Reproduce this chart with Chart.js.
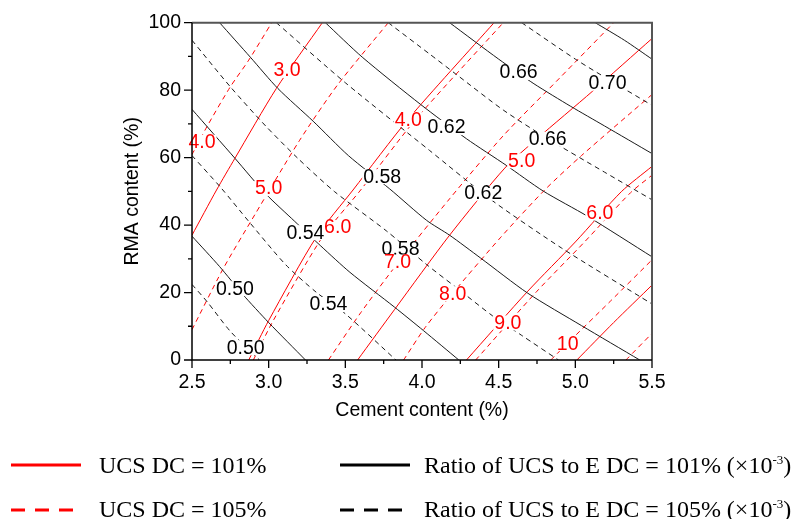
<!DOCTYPE html>
<html><head><meta charset="utf-8">
<script src="https://cdn.jsdelivr.net/npm/chart.js@4/dist/chart.umd.min.js"></script>
<style>
html,body{margin:0;padding:0;background:#fff;}
#wrap{position:relative;width:795px;height:519px;overflow:hidden;background:#fff;}
canvas{position:absolute;left:0;top:0;}
svg{position:absolute;left:0;top:0;}
.lg{position:absolute;font-family:"Liberation Serif","Times New Roman",serif;font-size:24px;color:#000;white-space:nowrap;line-height:24px;}
.lg sup{font-size:13px;vertical-align:9px;line-height:0;}
</style></head><body>
<div id="wrap">
<canvas id="c" width="795" height="519"></canvas>
<svg width="795" height="519">
 <line x1="11" y1="465" x2="81" y2="465" stroke="#ff0000" stroke-width="3"/>
 <line x1="11" y1="510" x2="73" y2="510" stroke="#ff0000" stroke-width="3" stroke-dasharray="14 10"/>
 <line x1="340" y1="465" x2="410" y2="465" stroke="#000" stroke-width="3"/>
 <line x1="340" y1="510" x2="403" y2="510" stroke="#000" stroke-width="3" stroke-dasharray="14 10"/>
</svg>
<div class="lg" style="left:99px;top:453px">UCS DC = 101%</div>
<div class="lg" style="left:99px;top:497px">UCS DC = 105%</div>
<div class="lg" style="left:424px;top:453px">Ratio of UCS to E DC = 101% (×10<sup>-3</sup>)</div>
<div class="lg" style="left:424px;top:497px">Ratio of UCS to E DC = 105% (×10<sup>-3</sup>)</div>
</div>
<script>
// ---- tick labels ----
const xTicks = [2.5, 3.0, 3.5, 4.0, 4.5, 5.0, 5.5];
const yTicks = [0, 20, 40, 60, 80, 100];

// ---- UCS, DC = 101% (red solid) : [cement, RMA] ----
const ucs101_3 = [[2.50,37.0],[2.66,50.4],[2.78,59.8],[3.05,80.5],[3.35,100]];
const ucs101_4 = [[2.87,0],[3.00,11.7],[3.31,36.4],[3.55,50.4],[3.91,71.4],[4.47,100]];
const ucs101_5 = [[3.58,0],[3.82,14.9],[4.18,37.0],[4.54,56.9],[4.75,65.6],[5.11,79.6],[5.50,95.3]];
const ucs101_6 = [[4.29,0],[4.69,20.4],[5.00,35.0],[5.30,49.9],[5.50,57.4]];
const ucs101_7 = [[5.01,0],[5.25,11.1],[5.50,22.2]];

// ---- UCS, DC = 105% (red dashed) ----
const ucs105_4 = [[2.50,60.9],[2.60,69.4],[2.75,81.0],[2.87,88.9],[3.02,100]];
const ucs105_5 = [[2.50,9.0],[2.70,26.8],[2.91,43.1],[3.20,65.0],[3.45,81.6],[3.78,100]];
const ucs105_6 = [[2.90,0],[3.03,11.7],[3.35,36.4],[3.60,50.4],[3.96,71.4],[4.53,100]];
const ucs105_7 = [[3.39,0],[3.60,14.0],[3.84,28.6],[4.18,47.8],[4.53,66.5],[4.90,83.7],[5.25,100]];
const ucs105_8 = [[3.88,0],[4.02,9.6],[4.20,19.8],[4.51,36.2],[4.80,50.4],[5.04,60.6],[5.50,78.7]];
const ucs105_9 = [[4.35,0],[4.75,20.4],[5.06,35.0],[5.36,49.6],[5.50,54.8]];
const ucs105_10 = [[4.84,0],[4.95,5.0],[5.23,17.5],[5.50,29.7]];
const ucs105_11 = [[5.33,0],[5.50,7.9]];

// ---- Ratio of UCS to E, DC = 101% (black solid) ----
const ratio101_050 = [[2.50,36.7],[2.68,27.7],[2.83,19.5],[3.00,11.1],[3.24,0]];
const ratio101_054 = [[2.50,74.3],[2.78,59.8],[2.98,49.3],[3.17,41.1],[3.34,33.8],[3.53,26.0],[3.82,15.7],[4.01,8.7],[4.24,0]];
const ratio101_058 = [[2.68,100],[2.88,89.8],[3.06,80.5],[3.29,70.8],[3.52,60.6],[3.79,50.7],[4.03,41.4],[4.18,37.0],[4.38,30.3],[4.69,19.8],[5.04,10.2],[5.42,0]];
const ratio101_062 = [[3.37,100],[3.61,89.8],[3.99,75.8],[4.29,65.6],[4.55,57.7],[4.79,50.1],[5.08,42.6],[5.50,30.6]];
const ratio101_066 = [[4.18,100],[4.50,89.2],[4.73,81.9],[4.97,75.2],[5.19,69.4],[5.50,61.2]];
const ratio101_070 = [[5.13,100],[5.32,94.8],[5.50,89.2]];

// ---- Ratio of UCS to E, DC = 105% (black dashed) ----
const ratio105_050 = [[2.50,22.4],[2.60,17.2],[2.75,8.5],[2.94,0]];
const ratio105_054 = [[2.50,60.6],[2.69,51.0],[2.87,41.1],[3.11,28.3],[3.31,20.1],[3.50,13.7],[3.83,0]];
const ratio105_058 = [[2.50,94.8],[2.75,81.0],[2.98,69.4],[3.19,59.8],[3.43,49.9],[3.77,38.2],[4.03,28.3],[4.22,21.6],[4.46,13.1],[4.65,7.3],[4.89,0]];
const ratio105_062 = [[3.05,100],[3.50,82.2],[4.05,62.1],[4.46,47.2],[4.91,33.2],[5.50,16.6]];
const ratio105_066 = [[3.78,100],[4.05,90.7],[4.22,84.8],[4.53,74.1],[4.82,65.6],[5.19,55.7],[5.50,47.5]];
const ratio105_070 = [[4.65,100],[5.00,89.2],[5.23,82.8],[5.50,75.5]];

// ---- contour labels ----
const ucsLabelText = ['3.0','4.0','5.0','6.0','4.0','5.0','6.0','7.0','8.0','9.0','10'];
const ucsLabelX = [3.12,2.565,3.00,3.45,3.91,4.65,5.16,3.84,4.20,4.56,4.95];
const ucsLabelY = [86.0,64.7,51.0,39.4,71.4,59.2,43.7,29.2,19.8,11.1,5.0];
const ratioLabelText = ['0.50','0.50','0.54','0.54','0.58','0.58','0.62','0.62','0.66','0.66','0.70'];
const ratioLabelX = [2.78,2.85,3.24,3.39,3.74,3.86,4.16,4.40,4.63,4.82,5.21];
const ratioLabelY = [21.3,3.8,37.9,16.6,54.5,32.9,69.1,49.6,85.4,65.6,82.2];

const RED = '#ff0000';
const BLK = '#1a1a1a';
function ds(pts, color, dash) {
  return {
    data: pts.map(p => ({x: p[0], y: p[1]})),
    borderColor: color, borderWidth: 1, borderDash: dash || [],
    showLine: true, pointRadius: 0, pointHoverRadius: 0, fill: false, tension: 0.25
  };
}
const D = [5, 4];
const datasets = [
  ds(ratio101_050, BLK), ds(ratio101_054, BLK), ds(ratio101_058, BLK), ds(ratio101_062, BLK), ds(ratio101_066, BLK), ds(ratio101_070, BLK),
  ds(ratio105_050, BLK, D), ds(ratio105_054, BLK, D), ds(ratio105_058, BLK, D), ds(ratio105_062, BLK, D), ds(ratio105_066, BLK, D), ds(ratio105_070, BLK, D),
  ds(ucs101_3, RED), ds(ucs101_4, RED), ds(ucs101_5, RED), ds(ucs101_6, RED), ds(ucs101_7, RED),
  ds(ucs105_4, RED, D), ds(ucs105_5, RED, D), ds(ucs105_6, RED, D), ds(ucs105_7, RED, D), ds(ucs105_8, RED, D),
  ds(ucs105_9, RED, D), ds(ucs105_10, RED, D), ds(ucs105_11, RED, D)
];

const FONT = '"Liberation Sans", Arial, sans-serif';
const FS = 19.5;

const overlay = {
  id: 'overlay',
  afterDatasetsDraw(chart) {
    const {ctx, scales: {x, y}} = chart;
    ctx.save();
    ctx.font = FS + 'px ' + FONT;
    ctx.textAlign = 'center';
    ctx.textBaseline = 'middle';
    const draw = (t, vx, vy, col) => {
      const px = x.getPixelForValue(vx), py = y.getPixelForValue(vy);
      const w = ctx.measureText(t).width;
      ctx.fillStyle = '#fff';
      ctx.fillRect(px - w / 2 - 1, py - 7, w + 2, 15);
      ctx.fillStyle = col;
      ctx.fillText(t, px, py + 1);
    };
    ratioLabelText.forEach((t, i) => draw(t, ratioLabelX[i], ratioLabelY[i], '#000'));
    ucsLabelText.forEach((t, i) => draw(t, ucsLabelX[i], ucsLabelY[i], RED));
    ctx.restore();
  },
  afterDraw(chart) {
    const {ctx, chartArea: a, scales: {x, y}} = chart;
    ctx.save();
    ctx.strokeStyle = '#555';
    ctx.lineWidth = 2;
    ctx.beginPath();
    ctx.moveTo(a.left, a.top); ctx.lineTo(a.right, a.top); ctx.lineTo(a.right, a.bottom);
    ctx.stroke();
    ctx.strokeStyle = '#000';
    ctx.lineWidth = 1.5;
    ctx.beginPath();
    ctx.moveTo(a.left, a.top); ctx.lineTo(a.left, a.bottom); ctx.lineTo(a.right, a.bottom);
    ctx.stroke();
    ctx.lineWidth = 1.3;
    ctx.beginPath();
    xTicks.forEach((v, i) => {
      const px = x.getPixelForValue(v);
      ctx.moveTo(px, a.bottom); ctx.lineTo(px, a.bottom + 8);
      if (i < xTicks.length - 1) {
        const pm = x.getPixelForValue((v + xTicks[i + 1]) / 2);
        ctx.moveTo(pm, a.bottom); ctx.lineTo(pm, a.bottom + 4);
      }
    });
    yTicks.forEach((v, i) => {
      const py = y.getPixelForValue(v);
      ctx.moveTo(a.left, py); ctx.lineTo(a.left - 8, py);
      if (i < yTicks.length - 1) {
        const pm = y.getPixelForValue((v + yTicks[i + 1]) / 2);
        ctx.moveTo(a.left, pm); ctx.lineTo(a.left - 4, pm);
      }
    });
    ctx.stroke();
    ctx.restore();
  }
};

new Chart(document.getElementById('c'), {
  type: 'scatter',
  data: { datasets },
  options: {
    responsive: false,
    animation: false,
    devicePixelRatio: 1,
    layout: { padding: { left: 0, top: 17, right: 143, bottom: 89 } },
    plugins: { legend: { display: false }, tooltip: { enabled: false } },
    scales: {
      x: {
        type: 'linear', min: 2.5, max: 5.5,
        afterBuildTicks: s => { s.ticks = xTicks.map(v => ({value: v})); },
        afterFit: s => { s.height = 70; },
        grid: { display: false, drawTicks: false },
        border: { display: false },
        ticks: { padding: 11, maxRotation: 0, autoSkip: false, color: '#000',
                 font: { family: FONT, size: FS }, callback: v => Number(v).toFixed(1) },
        title: { display: true, text: 'Cement content (%)', color: '#000',
                 font: { family: FONT, size: FS }, padding: { top: 0, bottom: 7.3 } }
      },
      y: {
        type: 'linear', min: 0, max: 100,
        afterBuildTicks: s => { s.ticks = yTicks.map(v => ({value: v})); },
        afterFit: s => { s.width = 192; },
        grid: { display: false, drawTicks: false },
        border: { display: false },
        ticks: { padding: 11, autoSkip: false, color: '#000',
                 font: { family: FONT, size: FS }, callback: v => String(v) },
        title: { display: true, text: 'RMA content (%)', color: '#000',
                 font: { family: FONT, size: FS }, padding: { top: 121.3, bottom: 0 } }
      }
    }
  },
  plugins: [overlay]
});
</script>
</body></html>
